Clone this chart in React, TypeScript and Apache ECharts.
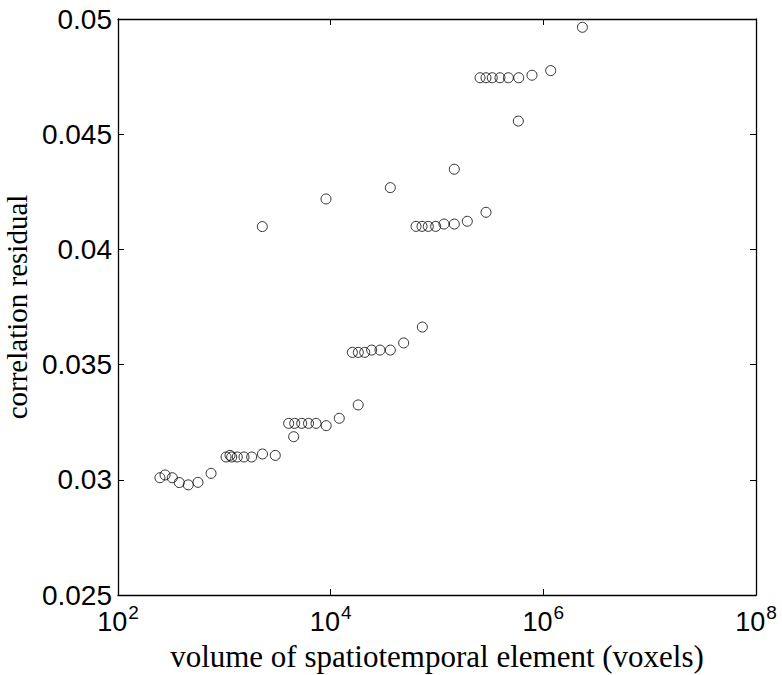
import React, { useEffect, useRef } from "react";
import * as echarts from "echarts";

// volume of spatiotemporal element (voxels)
const volumes: number[] = [
  248, 277, 324, 377, 458, 565, 750,
  1038, 1131, 1173, 1324, 1531, 1808, 2284, 3014,
  4027, 4588, 5342, 6192, 7285, 9080, 12050, 4490, 18150,
  16000, 18200, 20900, 24300, 29100, 36400, 48600, 72800,
  63500, 72300, 82800, 97200, 116400, 145500, 192800, 289000,
  2276, 9040, 36400, 145500,
  254000, 289000, 331000, 391000, 469000, 587000, 782000, 1173000,
  582000, 2330000,
];

// correlation residual
const residuals: number[] = [
  0.03009, 0.03021, 0.03009, 0.02988, 0.02978, 0.02989, 0.03028,
  0.03099, 0.03106, 0.03099, 0.03099, 0.03099, 0.03099, 0.03112, 0.03106,
  0.03245, 0.03245, 0.03245, 0.03245, 0.03245, 0.03235, 0.03267, 0.03187, 0.03325,
  0.03553, 0.03553, 0.03553, 0.03563, 0.03563, 0.03563, 0.03594, 0.03663,
  0.04100, 0.04100, 0.04100, 0.04100, 0.04110, 0.04110, 0.04122, 0.04161,
  0.04099, 0.04219, 0.04268, 0.04348,
  0.04745, 0.04745, 0.04745, 0.04745, 0.04745, 0.04745, 0.04756, 0.04776,
  0.04557, 0.04964,
];

const yTicks: number[] = [0.025, 0.03, 0.035, 0.04, 0.045, 0.05];
const xTitle = "volume of spatiotemporal element (voxels)";
const yTitle = "correlation residual";

export default function App() {
  const ref = useRef<HTMLDivElement>(null);
  useEffect(() => {
    if (!ref.current) return;
    const chart = echarts.init(ref.current, undefined, { renderer: "svg" });
    const data = volumes.map((v, i) => [v, residuals[i]]);
    const labelFont = "'Liberation Sans', Arial, sans-serif";
    const serif = "'Liberation Serif', 'Times New Roman', serif";
    const xCommon = {
      type: "log" as const,
      logBase: 10,
      min: 100,
      max: 1e8,
      interval: 2,
      splitLine: { show: false },
      axisLine: { show: true, lineStyle: { color: "#000", width: 1.3 } },
      axisTick: { show: true, inside: true, length: 6, lineStyle: { color: "#000" } },
      minorTick: { show: false },
    };
    const yCommon = {
      type: "value" as const,
      min: yTicks[0],
      max: yTicks[yTicks.length - 1],
      interval: 0.005,
      splitLine: { show: false },
      axisLine: { show: true, lineStyle: { color: "#000", width: 1.3 } },
      axisTick: { show: true, inside: true, length: 6, lineStyle: { color: "#000" } },
    };
    chart.setOption({
      animation: false,
      backgroundColor: "#fff",
      grid: { left: 118, right: 26, top: 19, bottom: 80, outerBoundsMode: "none" },
      xAxis: [
        {
          ...xCommon,
          position: "bottom",
          name: xTitle,
          nameLocation: "middle",
          nameGap: 46,
          nameTextStyle: { fontFamily: serif, fontSize: 31, color: "#000" },
          axisLabel: {
            margin: 8,
            color: "#000",
            formatter: (v: number) => "{b|10}{s|" + Math.round(Math.log10(v)) + "}",
            rich: {
              b: { fontFamily: labelFont, fontSize: 27, color: "#000" },
              s: { fontFamily: labelFont, fontSize: 19, color: "#000", padding: [0, 0, 18, 1] },
            },
          },
        },
        {
          ...xCommon,
          position: "top",
          axisLabel: { show: false },
        },
      ],
      yAxis: [
        {
          ...yCommon,
          position: "left",
          name: yTitle,
          nameLocation: "middle",
          nameGap: 82,
          nameTextStyle: { fontFamily: serif, fontSize: 29, color: "#000" },
          axisLabel: {
            margin: 6,
            fontFamily: labelFont,
            fontSize: 28,
            color: "#000",
            formatter: (v: number) => parseFloat(v.toFixed(4)).toString(),
          },
        },
        {
          ...yCommon,
          position: "right",
          axisLabel: { show: false },
        },
      ],
      series: [
        {
          type: "scatter",
          data,
          symbol: "circle",
          symbolSize: 10,
          itemStyle: { color: "rgba(0,0,0,0)", borderColor: "#000", borderWidth: 1 },
          emphasis: { disabled: true },
        },
      ],
    });
    return () => chart.dispose();
  }, []);
  return (
    <div
      ref={ref}
      style={{ position: "fixed", left: 0, top: 0, width: 782, height: 675 }}
    />
  );
}
